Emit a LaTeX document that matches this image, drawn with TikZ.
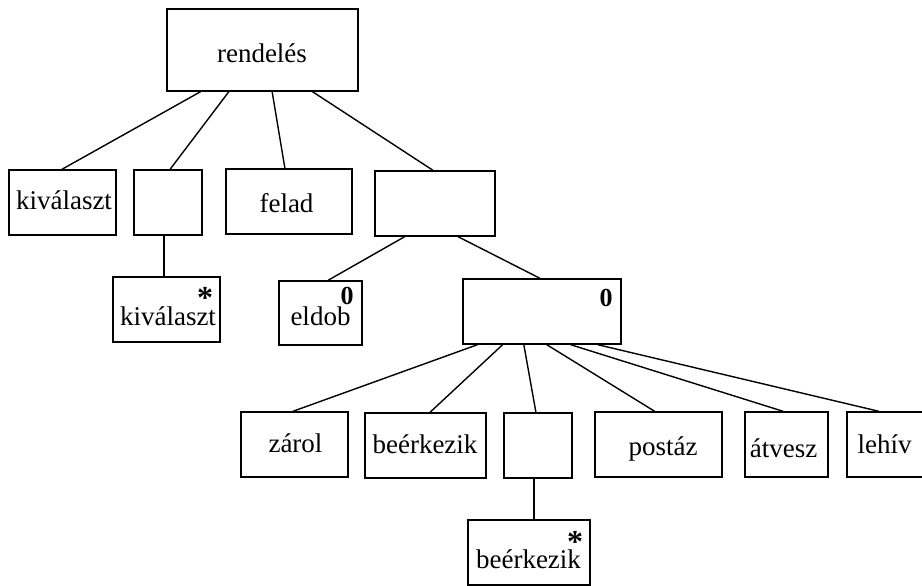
\documentclass[tikz,border=0pt]{standalone}
\usepackage{fontspec}
\setmainfont{Liberation Serif}
\usetikzlibrary{calc}
\tikzset{
  box/.style={draw, line width=1.4pt, rectangle, inner sep=0pt, minimum height=65pt},
  lbl/.style={anchor=base, inner sep=0pt, font=\fontsize{27}{30}\selectfont},
  zero/.style={anchor=north, inner sep=0pt, font=\fontsize{26}{28}\selectfont\bfseries},
  star/.style={anchor=north, inner sep=0pt, font=\fontsize{32}{34}\selectfont\bfseries},
  conn/.style={line width=1.4pt}
}
\newcommand\tconn[4]{\draw[conn] ($(#1.south west)!#2!(#1.south east)$) -- ($(#3.north west)!#4!(#3.north east)$);}
\begin{document}
\begin{tikzpicture}[x=1pt,y=-1pt]
\useasboundingbox (0,0) rectangle (922,586);
% boxes
\node[box, minimum width=191pt, minimum height=82pt] (root) at (262.5,50) {};
\node[box, minimum width=107pt] (kv) at (62.5,202.5) {};
\node[box, minimum width=68pt] (e1) at (168,202.5) {};
\node[box, minimum width=126pt] (felad) at (289,201.5) {};
\node[box, minimum width=120pt] (e2) at (435,203.5) {};
\node[box, minimum width=107pt] (kvs) at (166.5,309.5) {};
\node[box, minimum width=83pt, minimum height=64pt] (eldob) at (320.5,313) {};
\node[box, minimum width=158pt] (b0) at (542,311.5) {};
\node[box, minimum width=107pt] (zarol) at (294.5,444.5) {};
\node[box, minimum width=121pt] (beer) at (425.5,445.5) {};
\node[box, minimum width=68pt] (e3) at (538,445.5) {};
\node[box, minimum width=127pt] (postaz) at (658.5,444.5) {};
\node[box, minimum width=83pt] (atvesz) at (786.5,444.5) {};
\node[box, minimum width=78pt] (lehiv) at (886,444.5) {};
\node[box, minimum width=122pt] (beers) at (529,552.5) {};
% texts
\node[lbl] (t-root) at (262,63) {rendelés};
\node[lbl] (t-kv) at (64,209) {kiválaszt};
\node[lbl] (t-felad) at (286.5,212) {felad};
\node[lbl] (t-kvs) at (168,325) {kiválaszt};
\node[lbl] (t-eldob) at (320.5,325) {eldob};
\node[lbl] (t-zarol) at (295.5,452) {zárol};
\node[lbl] (t-beer) at (425,453) {beérkezik};
\node[lbl] (t-postaz) at (663,455) {postáz};
\node[lbl] (t-atvesz) at (783.5,457) {átvesz};
\node[lbl] (t-lehiv) at (884.5,453) {lehív};
\node[lbl] (t-beers) at (528.5,568) {beérkezik};
\node[zero] (z-eldob) at (347,287) {0};
\node[zero] (z-b0) at (606,289) {0};
\node[star] (s-kvs) at (205,287) {*};
\node[star] (s-beers) at (575,531) {*};
% connectors
\tconn{root}{0.178}{kv}{0.495}
\tconn{root}{0.325}{e1}{0.53}
\tconn{root}{0.55}{felad}{0.468}
\tconn{root}{0.76}{e2}{0.483}
\tconn{e2}{0.25}{eldob}{0.59}
\tconn{e2}{0.69}{b0}{0.487}
\tconn{b0}{0.095}{zarol}{0.486}
\tconn{b0}{0.253}{beer}{0.537}
\tconn{b0}{0.386}{e3}{0.47}
\tconn{b0}{0.53}{postaz}{0.47}
\tconn{b0}{0.68}{atvesz}{0.46}
\tconn{b0}{0.85}{lehiv}{0.41}
\coordinate (p1) at ($(e1.south west)!0.44!(e1.south east)$);
\draw[conn] (p1) -- (p1 |- kvs.north);
\coordinate (p2) at ($(e3.south west)!0.44!(e3.south east)$);
\draw[conn] (p2) -- (p2 |- beers.north);
\end{tikzpicture}
\end{document}
